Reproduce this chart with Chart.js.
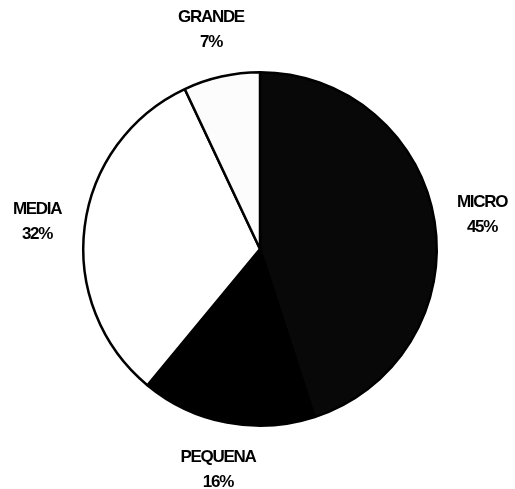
<!DOCTYPE html>
<html>
<head>
<meta charset="utf-8">
<script src="https://cdn.jsdelivr.net/npm/chart.js@4.4.1/dist/chart.umd.min.js"></script>
<style>
html,body{margin:0;padding:0;background:#fff;}
#wrap{width:515px;height:489px;}
</style>
</head>
<body>
<div id="wrap"><canvas id="c" width="515" height="489"></canvas></div>
<script>
const categories = ["MICRO", "PEQUENA", "MEDIA", "GRANDE"];
const shares = [45, 16, 32, 7];
const sliceColors = ["#080808", "#000000", "#ffffff", "#fcfcfc"];

const labelPlugin = {
  id: 'outerLabels',
  afterDatasetsDraw(chart) {
    const ctx = chart.ctx;
    const meta = chart.getDatasetMeta(0);
    ctx.save();
    ctx.fillStyle = '#000';
    ctx.font = 'bold 17px "Liberation Sans", Arial, sans-serif';
    try { ctx.letterSpacing = '-1.3px'; } catch (e) {}
    ctx.textAlign = 'center';
    ctx.textBaseline = 'middle';
    meta.data.forEach((arc, i) => {
      const p = arc.getProps(['x', 'y', 'startAngle', 'endAngle', 'outerRadius'], true);
      const mid = (p.startAngle + p.endAngle) / 2;
      const d = p.outerRadius + 48;
      const lx = p.x + Math.cos(mid) * d;
      const ly = p.y + Math.sin(mid) * d;
      ctx.fillText(categories[i], lx, ly - 12);
      ctx.fillText(shares[i] + '%', lx, ly + 13);
    });
    ctx.restore();
  }
};

new Chart(document.getElementById('c'), {
  type: 'pie',
  data: {
    labels: categories,
    datasets: [{
      data: shares,
      backgroundColor: sliceColors,
      borderColor: '#000',
      borderWidth: 2.5,
      borderAlign: 'center'
    }]
  },
  options: {
    responsive: false,
    animation: false,
    layout: { padding: { left: 82, right: 77, top: 71, bottom: 62 } },
    plugins: {
      legend: { display: false },
      tooltip: { enabled: false }
    }
  },
  plugins: [labelPlugin]
});
</script>
</body>
</html>
